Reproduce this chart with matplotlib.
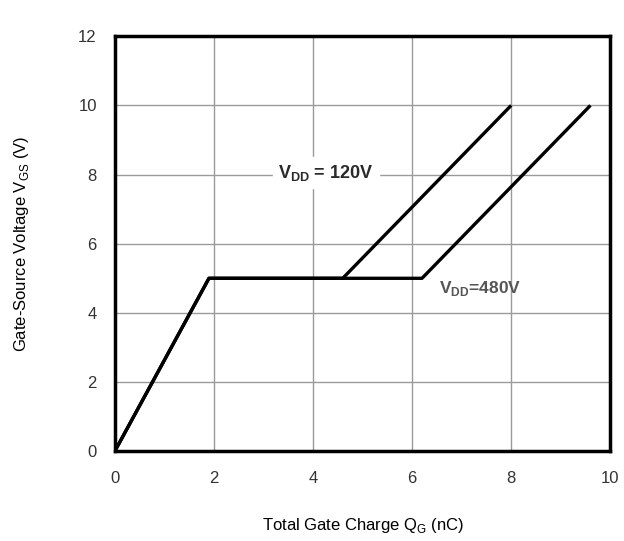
import matplotlib
matplotlib.use("Agg")
import matplotlib.pyplot as plt

# кривые заряда затвора
qg_120 = [0, 1.9, 4.6, 8.0]
vgs_120 = [0, 5, 5, 10]
qg_480 = [0, 1.9, 6.2, 9.6]
vgs_480 = [0, 5, 5, 10]

x_ticks = [0, 2, 4, 6, 8, 10]
y_ticks = [0, 2, 4, 6, 8, 10, 12]

plt.rcParams['font.family'] = ['Liberation Sans', 'DejaVu Sans']
plt.rcParams['mathtext.fontset'] = 'custom'
plt.rcParams['mathtext.rm'] = 'Liberation Sans'
plt.rcParams['mathtext.bf'] = 'Liberation Sans:bold'

fig = plt.figure(figsize=(6.24, 5.41), dpi=100)
ax = fig.add_axes([0.184, 0.166, 0.794, 0.767])

ax.plot(qg_480, vgs_480, color='black', lw=2.4, solid_capstyle='butt', zorder=3)
ax.plot(qg_120, vgs_120, color='black', lw=2.4, solid_capstyle='butt', zorder=3)

ax.set_xlim(0, 10)
ax.set_ylim(0, 12)
ax.set_xticks(x_ticks)
ax.set_yticks(y_ticks)
ax.grid(True, color='#9a9a9a', lw=1.0)
ax.tick_params(length=0, labelsize=12, labelcolor='#333333')
ax.tick_params(axis='x', pad=14)
ax.tick_params(axis='y', pad=13)
for s in ax.spines.values():
    s.set_linewidth(2.5)
    s.set_color('black')

ax.text(3.3, 8.05, r'V$_{\mathregular{DD}}$ = 120V', fontsize=13, color='#2a2a2a',
        fontweight='bold', va='center', ha='left', backgroundcolor='white', zorder=4)
ax.text(6.55, 4.7, r'V$_{\mathregular{DD}}$=480V', fontsize=12.5, color='#555555',
        fontweight='bold', va='center', ha='left', zorder=4)

ax.set_xlabel(r'Total Gate Charge Q$_{\mathregular{G}}$ (nC)', fontsize=12, labelpad=22)
ax.set_ylabel(r'Gate-Source Voltage V$_{\mathregular{GS}}$ (V)', fontsize=12, labelpad=34)

plt.savefig('out.png', dpi=100)
